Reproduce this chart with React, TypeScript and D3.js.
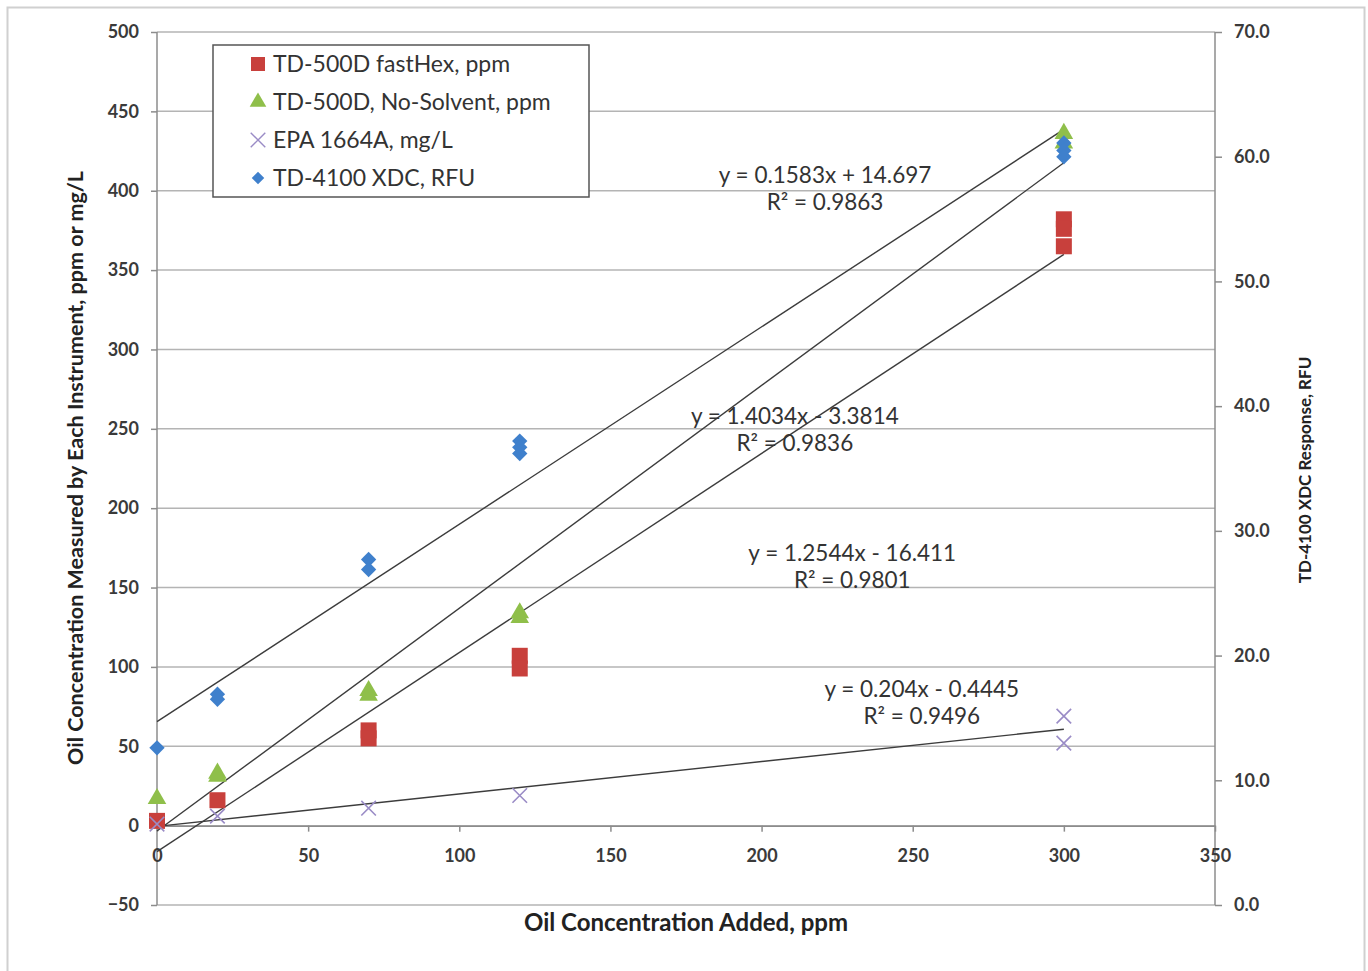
import React, { useEffect, useRef } from "react";
import * as d3 from "d3";

// Oil concentration added (ppm) for each reading
const fastHexX = [0, 20, 70, 70, 120, 120, 300, 300, 300];
const fastHexY = [3, 16, 60, 55, 107, 99, 382, 376, 365];

const noSolventX = [0, 20, 20, 70, 70, 120, 120, 300, 300];
const noSolventY = [17, 33, 31, 85, 82, 134, 131, 436, 430];

const epaX = [0, 20, 70, 120, 300, 300];
const epaY = [1, 6, 11, 19, 69, 52];

// TD-4100 XDC is read on the right (RFU) axis
const xdcX = [0, 20, 20, 70, 70, 120, 120, 120, 300, 300, 300];
const xdcY = [12.6, 16.9, 16.5, 27.7, 26.9, 37.2, 36.7, 36.2, 61.1, 60.5, 60.0];

// trendlines: slope, intercept, R², label anchor (data units)
const trendNames = ["xdc", "noSolvent", "fastHex", "epa"];
const trendSlope = [0.1583, 1.4034, 1.2544, 0.204];
const trendIntercept = [14.697, -3.3814, -16.411, -0.4445];
const trendR2 = ["0.9863", "0.9836", "0.9801", "0.9496"];
const trendLabelX = [221, 211, 230, 253];
const trendLabelY = [410, 258, 172, 86];

const leftTicks = d3.range(-50, 501, 50);
const rightTicks = d3.range(0, 71, 10);
const xTicks = d3.range(0, 351, 50);

const legendLabels = [
  "TD-500D fastHex, ppm",
  "TD-500D, No-Solvent, ppm",
  "EPA 1664A, mg/L",
  "TD-4100 XDC, RFU",
];

const RED = "#c8403c";
const GREEN = "#8fbf4a";
const PURPLE = "#9a8cc6";
const BLUE = "#3f80cc";
const FONT = "Lato, 'Liberation Sans', sans-serif";

const App = () => {
  const ref = useRef<SVGSVGElement>(null);

  useEffect(() => {
    const svg = d3.select(ref.current);
    svg.selectAll("*").remove();

    const width = 1368;
    const height = 971;
    const plot = { left: 157, right: 1215, top: 32, bottom: 905 };

    const x = d3.scaleLinear().domain([0, 350]).range([plot.left, plot.right]);
    const yL = d3.scaleLinear().domain([-50, 500]).range([plot.bottom, plot.top]);
    const yR = d3.scaleLinear().domain([0, 70]).range([plot.bottom, plot.top]);

    svg.append("rect").attr("width", width).attr("height", height).attr("fill", "#fff");
    svg
      .append("rect")
      .attr("x", 7.5)
      .attr("y", 7.5)
      .attr("width", 1357)
      .attr("height", 970)
      .attr("fill", "none")
      .attr("stroke", "#d0d0d0")
      .attr("stroke-width", 2);

    // gridlines
    svg
      .append("g")
      .selectAll("line")
      .data(leftTicks)
      .join("line")
      .attr("x1", plot.left)
      .attr("x2", plot.right)
      .attr("y1", (d) => yL(d))
      .attr("y2", (d) => yL(d))
      .attr("stroke", "#b4b4b4")
      .attr("stroke-width", 1.5);

    // left axis
    const left = svg.append("g").attr("transform", `translate(${plot.left},0)`).call(
      d3.axisLeft(yL).tickValues(leftTicks).tickSize(6).tickPadding(12).tickFormat(d3.format("d"))
    );
    // right axis
    const right = svg.append("g").attr("transform", `translate(${plot.right},0)`).call(
      d3.axisRight(yR).tickValues(rightTicks).tickSize(7).tickPadding(12).tickFormat(d3.format(".1f"))
    );
    // x axis crossing at y = 0
    const bottom = svg.append("g").attr("transform", `translate(0,${yL(0)})`).call(
      d3.axisBottom(x).tickValues(xTicks).tickSize(6).tickSizeOuter(0).tickPadding(18).tickFormat(d3.format("d"))
    );

    [left, right, bottom].forEach((g) => {
      g.select(".domain").attr("stroke", "#8c8c8c").attr("stroke-width", 1.5);
      g.selectAll(".tick line").attr("stroke", "#8c8c8c").attr("stroke-width", 1.5);
      g.selectAll(".tick text")
        .attr("fill", "#3a3a3a")
        .style("font-family", FONT)
        .style("font-size", "18px")
        .style("font-weight", "bold");
    });
    left.select(".domain").attr("d", `M0,${plot.top}V${plot.bottom}`);
    right.select(".domain").attr("d", `M0,${plot.top}V${plot.bottom}`);

    // trendlines, drawn over 0..300
    trendNames.forEach((name, i) => {
      const y = name === "xdc" ? yR : yL;
      const f = (v: number) => trendSlope[i] * v + trendIntercept[i];
      svg
        .append("line")
        .attr("x1", x(0))
        .attr("y1", y(f(0)))
        .attr("x2", x(300))
        .attr("y2", y(f(300)))
        .attr("stroke", "#3c3c3c")
        .attr("stroke-width", 1.4);
    });

    // markers
    const pts = (xs: number[], ys: number[], y: d3.ScaleLinear<number, number>) =>
      xs.map((v, i) => [x(v), y(ys[i])] as [number, number]);

    svg
      .append("g")
      .selectAll("rect")
      .data(pts(fastHexX, fastHexY, yL))
      .join("rect")
      .attr("x", (d) => d[0] - 8)
      .attr("y", (d) => d[1] - 8)
      .attr("width", 16)
      .attr("height", 16)
      .attr("fill", RED);

    const tri = d3.symbol().type(d3.symbolTriangle).size(150);
    svg
      .append("g")
      .selectAll("path")
      .data(pts(noSolventX, noSolventY, yL))
      .join("path")
      .attr("transform", (d) => `translate(${d[0]},${d[1]})`)
      .attr("d", tri())
      .attr("fill", GREEN);

    const cross = d3.symbol().type(d3.symbolX).size(140);
    svg
      .append("g")
      .selectAll("path")
      .data(pts(epaX, epaY, yL))
      .join("path")
      .attr("transform", (d) => `translate(${d[0]},${d[1]})`)
      .attr("d", cross())
      .attr("fill", "none")
      .attr("stroke", PURPLE)
      .attr("stroke-width", 1.6);

    const dia = d3.symbol().type(d3.symbolDiamond2).size(150);
    svg
      .append("g")
      .selectAll("path")
      .data(pts(xdcX, xdcY, yR))
      .join("path")
      .attr("transform", (d) => `translate(${d[0]},${d[1]})`)
      .attr("d", dia())
      .attr("fill", BLUE);

    // trendline labels
    trendNames.forEach((_, i) => {
      const sign = trendIntercept[i] < 0 ? "-" : "+";
      const g = svg
        .append("text")
        .attr("x", x(trendLabelX[i]))
        .attr("y", yL(trendLabelY[i]))
        .attr("text-anchor", "middle")
        .attr("fill", "#333")
        .style("font-family", FONT)
        .style("font-size", "22.5px");
      g.append("tspan")
        .attr("x", x(trendLabelX[i]))
        .attr("dy", "0.35em")
        .text(`y = ${trendSlope[i]}x ${sign} ${Math.abs(trendIntercept[i])}`);
      g.append("tspan")
        .attr("x", x(trendLabelX[i]))
        .attr("dy", "1.2em")
        .text(`R² = ${trendR2[i]}`);
    });

    // legend
    const lg = svg.append("g").attr("transform", "translate(213,45)");
    lg.append("rect")
      .attr("width", 376)
      .attr("height", 152)
      .attr("fill", "#fff")
      .attr("stroke", "#555")
      .attr("stroke-width", 1.5);
    legendLabels.forEach((label, i) => {
      const cy = 19 + i * 38;
      const item = lg.append("g").attr("transform", `translate(45,${cy})`);
      if (i === 0) item.append("rect").attr("x", -7).attr("y", -7).attr("width", 14).attr("height", 14).attr("fill", RED);
      if (i === 1) item.append("path").attr("d", d3.symbol().type(d3.symbolTriangle).size(120)()).attr("fill", GREEN);
      if (i === 2)
        item.append("path").attr("d", cross()).attr("fill", "none").attr("stroke", PURPLE).attr("stroke-width", 1.4);
      if (i === 3) item.append("path").attr("d", d3.symbol().type(d3.symbolDiamond2).size(100)()).attr("fill", BLUE);
      lg.append("text")
        .attr("x", 60)
        .attr("y", cy)
        .attr("dy", "0.35em")
        .attr("fill", "#333")
        .style("font-family", FONT)
        .style("font-size", "23px")
        .text(label);
    });

    // axis titles
    const title = (t: string, tx: number, ty: number, rot: number, size: number) =>
      svg
        .append("text")
        .attr("transform", `translate(${tx},${ty}) rotate(${rot})`)
        .attr("text-anchor", "middle")
        .attr("dy", "0.35em")
        .attr("fill", "#222")
        .style("font-family", FONT)
        .style("font-size", `${size}px`)
        .style("font-weight", "bold")
        .text(t);

    title("Oil Concentration Measured by Each Instrument, ppm or mg/L", 75, 468, -90, 21.5);
    title("TD-4100 XDC Response, RFU", 1305, 470, -90, 17);
    title("Oil Concentration Added, ppm", 686, 923, 0, 24);
  }, []);

  return (
    <svg
      ref={ref}
      width={1368}
      height={971}
      style={{ position: "absolute", left: 0, top: 0, display: "block" }}
    />
  );
};

export default App;
